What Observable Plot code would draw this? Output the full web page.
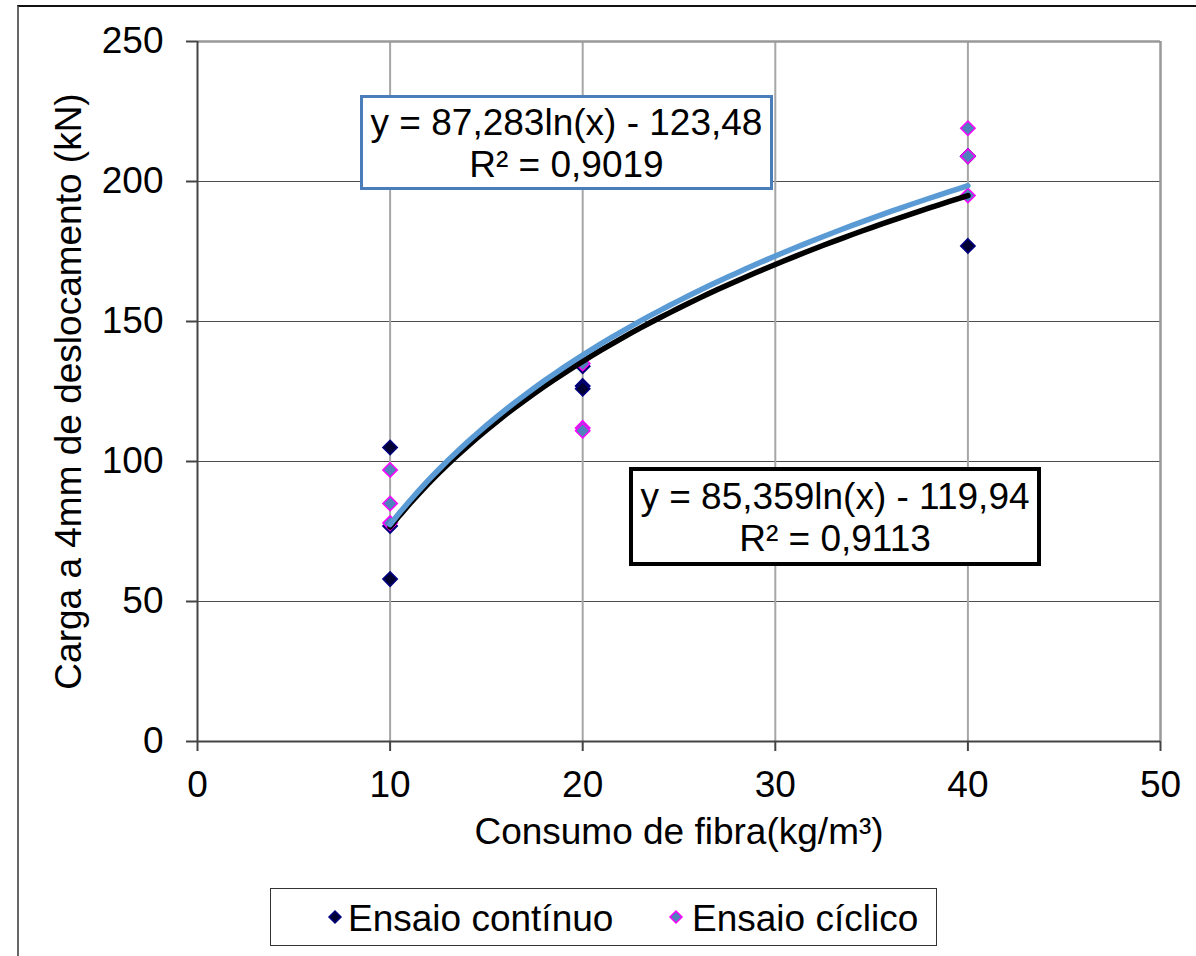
<!DOCTYPE html>
<html>
<head>
<meta charset="utf-8">
<script src="https://cdn.jsdelivr.net/npm/d3@7"></script>
<script src="https://cdn.jsdelivr.net/npm/@observablehq/plot@0.6"></script>
<style>
  html, body { margin: 0; padding: 0; background: #fff; }
  #wrap { position: relative; width: 1196px; height: 956px; overflow: hidden; font-family: "Liberation Sans", Arial, sans-serif; color: #000; }
  #frame { position: absolute; left: 17px; top: 5px; width: 1400px; height: 1200px; border-top: 2px solid #111; border-left: 2px solid #666; }
  .eq { position: absolute; background: #fff; box-sizing: border-box; text-align: center; font-size: 37px; line-height: 42px; white-space: nowrap; }
  .legend { position: absolute; left: 270px; top: 888px; width: 667px; height: 58px; box-sizing: border-box; border: 1.5px solid #333; background: #fff; }
  .lg { position: absolute; font-size: 37px; line-height: 37px; white-space: nowrap; }
  .lgsym { position: absolute; }
</style>
</head>
<body>
<div id="wrap">
  <div id="frame"></div>
  <div id="chart" style="position:absolute;left:0;top:0;"></div>
</div>
<script>
// ---- data ----
const fibra = [10, 10, 10, 20, 20, 20, 40, 40, 40];
const cargaContinuo = [105, 77, 58, 134, 127, 126, 177, 209, 209];
const cargaCiclico = [97, 85, 78, 135, 112, 111, 219, 209, 195];
const xTicks = [0, 10, 20, 30, 40, 50];
const yTicks = [0, 50, 100, 150, 200, 250];
const seriesNames = ["Ensaio contínuo", "Ensaio cíclico"];
// log trend lines y = a ln(x) + b (as printed on the chart)
const trendA = [85.359, 87.283];
const trendB = [-119.94, -123.48];
const trendR2 = ["0,9113", "0,9019"];
const trendText = ["y = 85,359ln(x) - 119,94", "y = 87,283ln(x) - 123,48"];
const xLabel = "Consumo de fibra(kg/m³)";
const yLabel = "Carga a 4mm de deslocamento (kN)";

const contData = fibra.map((x, i) => ({x, y: cargaContinuo[i]}));
const cycData = fibra.map((x, i) => ({x, y: cargaCiclico[i]}));
const xs = d3.range(10, 40.0001, 0.5);
const trendCont = xs.map(x => ({x, y: trendA[0] * Math.log(x) + trendB[0]}));
const trendCyc = xs.map(x => ({x, y: trendA[1] * Math.log(x) + trendB[1]}));

const colContFill = "#000033", colContStroke = "#000080";
const colCycFill = "#4f81bd", colCycStroke = "#ff00ff";
const colBlueLine = "#5b9bd5";

const chart = Plot.plot({
  width: 1196,
  height: 956,
  marginLeft: 197,
  marginRight: 36,
  marginTop: 41,
  marginBottom: 215,
  x: {domain: [0, 50]},
  y: {domain: [0, 250]},
  style: {fontFamily: "'Liberation Sans', Arial, sans-serif", fontSize: "37px", color: "#000", background: "transparent", overflow: "visible"},
  marks: [
    Plot.ruleY(yTicks.filter(d => d > 0 && d < 250), {stroke: "#4d4d4d", strokeWidth: 1.2}),
    Plot.ruleX(xTicks.filter(d => d > 0 && d < 50), {stroke: "#a6a6a6", strokeWidth: 2}),
    Plot.ruleY([250], {stroke: "#999", strokeWidth: 2.5}),
    Plot.ruleX([50], {stroke: "#999", strokeWidth: 2.5}),
    Plot.axisX({ticks: xTicks, tickSize: 10, tickPadding: 19, label: null, stroke: "#444", strokeWidth: 2, fontSize: 37, fill: "#000"}),
    Plot.axisY({ticks: yTicks, tickSize: 11, tickPadding: 23, label: null, stroke: "#444", strokeWidth: 2, fontSize: 37, fill: "#000"}),
    Plot.ruleX([0], {stroke: "#444", strokeWidth: 2}),
    Plot.ruleY([0], {stroke: "#444", strokeWidth: 2}),
    Plot.dot(contData, {x: "x", y: "y", symbol: "diamond2", r: 6.5, fill: colContFill, stroke: colContStroke, strokeWidth: 1.5}),
    Plot.dot(cycData, {x: "x", y: "y", symbol: "diamond2", r: 6.5, fill: colCycFill, stroke: colCycStroke, strokeWidth: 1.5}),
    Plot.line(trendCont, {x: "x", y: "y", stroke: "#000", strokeWidth: 5.5}),
    Plot.line(trendCyc, {x: "x", y: "y", stroke: colBlueLine, strokeWidth: 5.5}),
    Plot.text([xLabel], {frameAnchor: "bottom", dy: 91, fontSize: 37, fill: "#000", lineAnchor: "middle", textAnchor: "middle"}),
    Plot.text([yLabel], {frameAnchor: "left", dx: -128, rotate: -90, fontSize: 37, fill: "#000", lineAnchor: "middle", textAnchor: "middle"})
  ]
});
document.getElementById("chart").appendChild(chart);

const wrap = document.getElementById("wrap");
function eqBox(left, top, width, height, border, padTop, i) {
  const d = document.createElement("div");
  d.className = "eq";
  Object.assign(d.style, {left: left + "px", top: top + "px", width: width + "px", height: height + "px", border: border, paddingTop: padTop + "px"});
  const l1 = document.createElement("div"); l1.textContent = trendText[i];
  const l2 = document.createElement("div"); l2.textContent = "R² = " + trendR2[i];
  d.appendChild(l1); d.appendChild(l2);
  wrap.appendChild(d);
}
eqBox(360, 95, 413, 95, "3px solid #4a7ebb", 4, 1);
eqBox(629, 467, 412, 99, "4px solid #000", 5, 0);

// legend
const lg = document.createElement("div");
lg.className = "legend";
wrap.appendChild(lg);
function legItem(cx, tx, name, fill, stroke) {
  const ns = "http://www.w3.org/2000/svg";
  const s = document.createElementNS(ns, "svg");
  s.setAttribute("width", 16); s.setAttribute("height", 16);
  s.setAttribute("class", "lgsym");
  s.style.left = (cx - 8) + "px"; s.style.top = (917 - 8) + "px";
  const p = document.createElementNS(ns, "polygon");
  p.setAttribute("points", "8,2 14,8 8,14 2,8");
  p.setAttribute("fill", fill); p.setAttribute("stroke", stroke); p.setAttribute("stroke-width", 1.5);
  s.appendChild(p);
  wrap.appendChild(s);
  const t = document.createElement("div");
  t.className = "lg";
  t.style.left = tx + "px"; t.style.top = "900px";
  t.textContent = name;
  wrap.appendChild(t);
}
legItem(335, 348, seriesNames[0], colContFill, colContStroke);
legItem(676, 692, seriesNames[1], colCycFill, colCycStroke);
</script>
</body>
</html>
